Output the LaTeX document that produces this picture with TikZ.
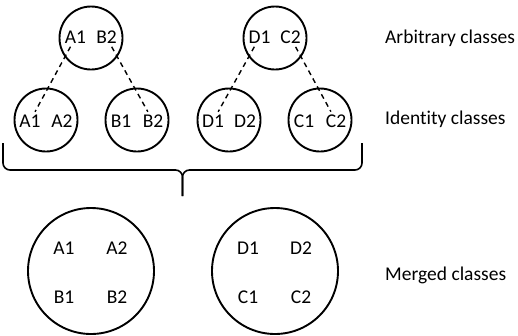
\documentclass[tikz,border=0pt]{standalone}
\usepackage{fontspec}
\setmainfont[Ligatures=NoCommon]{Carlito}
\begin{document}
\begin{tikzpicture}[x=1pt,y=-1pt,font=\fontsize{19.5}{23}\selectfont]
        \useasboundingbox (0,0) rectangle (518,335);
        \tikzset{cls/.style={circle,draw,line width=1.9pt,minimum size=63pt,inner sep=0pt},
                 merged/.style={circle,draw,line width=1.9pt,minimum size=126pt,inner sep=0pt},
                 lbl/.style={inner sep=1pt}}
        % arbitrary classes
        \node[cls] (AB) at (91,38) {};
        \node[cls] (DC) at (275,38) {};
        % identity classes
        \node[cls] (AA) at (46,120) {};
        \node[cls] (BB) at (137,120) {};
        \node[cls] (DD) at (229,120) {};
        \node[cls] (CC) at (320,120) {};
        % merged classes
        \node[merged] (ABm) at (91,271) {};
        \node[merged] (DCm) at (275,271) {};

        \begin{scope}[every node/.style={lbl}]
          \node (AB1) at ([xshift=-15.5pt,yshift=0.5pt]AB.center) {A1};
          \node (AB2) at ([xshift=15.5pt,yshift=0.5pt]AB.center) {B2};
          \node (DC1) at ([xshift=-15.5pt,yshift=0.5pt]DC.center) {D1};
          \node (DC2) at ([xshift=15.5pt,yshift=0.5pt]DC.center) {C2};
          \node (AA1) at ([xshift=-16pt,yshift=-1pt]AA.center) {A1};
          \node (AA2) at ([xshift=16pt,yshift=-1pt]AA.center) {A2};
          \node (BB1) at ([xshift=-16pt,yshift=-1pt]BB.center) {B1};
          \node (BB2) at ([xshift=16pt,yshift=-1pt]BB.center) {B2};
          \node (DD1) at ([xshift=-16pt,yshift=-1pt]DD.center) {D1};
          \node (DD2) at ([xshift=16pt,yshift=-1pt]DD.center) {D2};
          \node (CC1) at ([xshift=-16pt,yshift=-1pt]CC.center) {C1};
          \node (CC2) at ([xshift=16pt,yshift=-1pt]CC.center) {C2};
          \node (m-A1) at ([xshift=-27pt,yshift=23pt]ABm.center) {A1};
          \node (m-A2) at ([xshift=26pt,yshift=23pt]ABm.center) {A2};
          \node (m-B1) at ([xshift=-27pt,yshift=-26pt]ABm.center) {B1};
          \node (m-B2) at ([xshift=26pt,yshift=-26pt]ABm.center) {B2};
          \node (m-D1) at ([xshift=-27pt,yshift=23pt]DCm.center) {D1};
          \node (m-D2) at ([xshift=26pt,yshift=23pt]DCm.center) {D2};
          \node (m-C1) at ([xshift=-27pt,yshift=-26pt]DCm.center) {C1};
          \node (m-C2) at ([xshift=26pt,yshift=-26pt]DCm.center) {C2};
        \end{scope}

        \begin{scope}[every edge/.style={draw=black,line width=1.4pt,dash pattern=on 5pt off 4pt,shorten <=2pt,shorten >=2pt}]
          \path (AB1) edge (AA1);
          \path (AB2) edge (BB2);
          \path (DC1) edge (DD1);
          \path (DC2) edge (CC2);
        \end{scope}

        % brace under the identity classes
        \coordinate (bl) at (3,143);
        \coordinate (br) at (362,143);
        \coordinate (bm) at (182.5,170);
        \coordinate (tip) at (182.5,196);
        \draw[line width=1.6pt,rounded corners=7pt] (bl) |- (bm) -- (tip);
        \draw[line width=1.6pt,rounded corners=7pt] (br) |- (bm) -- (tip);

        % row captions
        \node[anchor=base west,inner sep=0pt] (arb) at (385,43) {Arbitrary classes};
        \node[anchor=base west,inner sep=0pt] (ide) at (385,124) {Identity classes};
        \node[anchor=base west,inner sep=0pt] (mer) at (385,280) {Merged classes};
\end{tikzpicture}
\end{document}
